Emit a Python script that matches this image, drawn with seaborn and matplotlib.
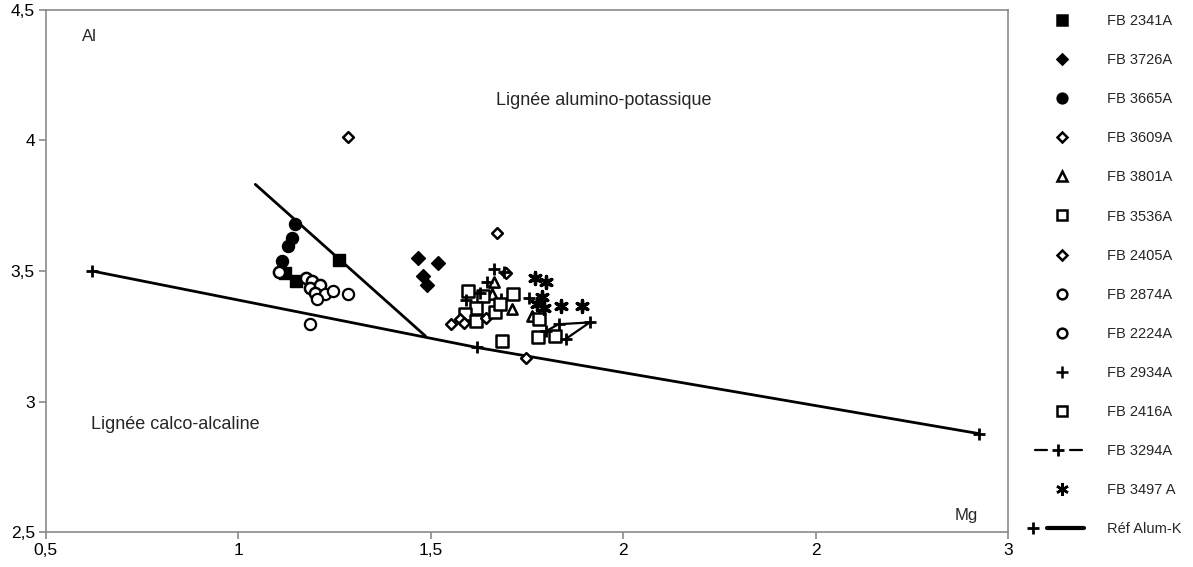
import matplotlib
matplotlib.use("Agg")
import matplotlib.pyplot as plt
from matplotlib.lines import Line2D
from matplotlib.legend_handler import HandlerBase
import seaborn as sns
import pandas as pd

# --- data (Mg, Al) per sample ---
fb2341a_x = [1.122, 1.149, 1.262, 1.210]
fb2341a_y = [3.492, 3.462, 3.542, 3.419]
fb3726a_x = [1.468, 1.519, 1.481, 1.490]
fb3726a_y = [3.549, 3.530, 3.480, 3.447]
fb3665a_x = [1.146, 1.139, 1.128, 1.113]
fb3665a_y = [3.681, 3.627, 3.596, 3.538]
fb3609a_x = [1.285, 1.672, 1.696, 1.748]
fb3609a_y = [4.015, 3.646, 3.492, 3.168]
fb3801a_x = [1.665, 1.659, 1.711, 1.763]
fb3801a_y = [3.456, 3.412, 3.354, 3.328]
fb3536a_x = [1.597, 1.636, 1.713, 1.618, 1.588, 1.618]
fb3536a_y = [3.424, 3.405, 3.410, 3.357, 3.337, 3.309]
fb2405a_x = [1.553, 1.577, 1.587, 1.644]
fb2405a_y = [3.296, 3.318, 3.299, 3.319]
fb2874a_x = [1.106, 1.175, 1.191, 1.187, 1.213, 1.198]
fb2874a_y = [3.497, 3.473, 3.463, 3.436, 3.447, 3.414]
fb2224a_x = [1.224, 1.245, 1.204, 1.285, 1.187]
fb2224a_y = [3.410, 3.423, 3.392, 3.412, 3.296]
fb2934a_x = [1.663, 1.689, 1.646, 1.627, 1.683, 1.592, 1.754]
fb2934a_y = [3.508, 3.497, 3.456, 3.414, 3.392, 3.388, 3.395]
fb2416a_x = [1.666, 1.679, 1.685, 1.782, 1.778, 1.824]
fb2416a_y = [3.344, 3.373, 3.232, 3.318, 3.249, 3.251]
fb3294a_x = [1.800, 1.832, 1.913, 1.852]
fb3294a_y = [3.270, 3.296, 3.303, 3.241]
fb3497a_x = [1.772, 1.800, 1.789, 1.775, 1.793, 1.838, 1.894]
fb3497a_y = [3.472, 3.457, 3.400, 3.375, 3.357, 3.364, 3.364]

ref_x = [0.62, 1.62, 2.924]
ref_y = [3.50, 3.207, 2.877]
limit_x = [1.044, 1.486]
limit_y = [3.832, 3.251]

x_ticks = [0.5, 1.0, 1.5, 2.0, 2.5, 3.0]
x_tick_labels = ["0,5", "1", "1,5", "2", "2", "3"]
y_ticks = [2.5, 3.0, 3.5, 4.0, 4.5]
y_tick_labels = ["2,5", "3", "3,5", "4", "4,5"]

sns.set_style("white")
plt.rcParams["font.family"] = ["Liberation Sans", "DejaVu Sans"]

fig = plt.figure(figsize=(11.93, 5.67), dpi=100)
ax = fig.add_axes([0.0385, 0.0617, 0.8065, 0.9207])

# (label, xs, ys, marker, filled, size, edge width)
series = [
    ("FB 2341A", fb2341a_x, fb2341a_y, "s", True, 70, 1.0),
    ("FB 3726A", fb3726a_x, fb3726a_y, "D", True, 50, 1.0),
    ("FB 3665A", fb3665a_x, fb3665a_y, "o", True, 75, 1.0),
    ("FB 3609A", fb3609a_x, fb3609a_y, "D", False, 30, 1.8),
    ("FB 3801A", fb3801a_x, fb3801a_y, "^", False, 55, 1.8),
    ("FB 3536A", fb3536a_x, fb3536a_y, "s", False, 75, 1.8),
    ("FB 2405A", fb2405a_x, fb2405a_y, "D", False, 30, 1.8),
    ("FB 2874A", fb2874a_x, fb2874a_y, "o", False, 65, 1.8),
    ("FB 2224A", fb2224a_x, fb2224a_y, "o", False, 65, 1.6),
    ("FB 2934A", fb2934a_x, fb2934a_y, "+", False, 80, 2.0),
    ("FB 2416A", fb2416a_x, fb2416a_y, "s", False, 75, 1.8),
    ("FB 3497 A", fb3497a_x, fb3497a_y, (6, 2, 0), False, 75, 2.4),
]

for label, xs, ys, mk, filled, size, lw in series:
    df = pd.DataFrame({"Mg": xs, "Al": ys})
    if mk in ("+",) or isinstance(mk, tuple):
        sns.scatterplot(data=df, x="Mg", y="Al", ax=ax, marker=mk, s=size,
                        color="black", linewidth=lw, legend=False, zorder=3)
    else:
        sns.scatterplot(data=df, x="Mg", y="Al", ax=ax, marker=mk, s=size,
                        facecolor="black" if filled else "white",
                        edgecolor="black", linewidth=lw, legend=False, zorder=3)

# sample with connected points
sns.lineplot(x=fb3294a_x, y=fb3294a_y, ax=ax, sort=False, color="black",
             linewidth=1.6, marker="+", markersize=9, markeredgewidth=2,
             markeredgecolor="black", estimator=None, zorder=3)

# reference alumino-potassic trend and limit line
sns.lineplot(x=ref_x, y=ref_y, ax=ax, sort=False, color="black", linewidth=2,
             marker="+", markersize=9, markeredgewidth=2, markeredgecolor="black",
             estimator=None, zorder=2)
sns.lineplot(x=limit_x, y=limit_y, ax=ax, sort=False, color="black",
             linewidth=2, estimator=None, zorder=2)

ax.set_xlim(0.5, 3.0)
ax.set_ylim(2.5, 4.5)
ax.set_xticks(x_ticks)
ax.set_xticklabels(x_tick_labels)
ax.set_yticks(y_ticks)
ax.set_yticklabels(y_tick_labels)
ax.set_xlabel("")
ax.set_ylabel("")
for sp in ax.spines.values():
    sp.set_visible(True)
    sp.set_color("#8a8a8a")
    sp.set_linewidth(1.2)
ax.tick_params(axis="both", which="major", direction="out", length=5, width=1.2,
               color="#8a8a8a", labelsize=12.5, labelcolor="black", pad=3,
               bottom=True, left=True)

ax.text(0.594, 4.40, "Al", fontsize=12, ha="left", va="center")
ax.text(1.949, 4.154, "Lignée alumino-potassique", fontsize=13, ha="center", va="center")
ax.text(0.617, 2.912, "Lignée calco-alcaline", fontsize=13, ha="left", va="center")
ax.text(2.89, 2.565, "Mg", fontsize=12, ha="center", va="center")


class SegmentHandler(HandlerBase):
    """Legend key built from line segments and '+' markers at given fractions."""

    def __init__(self, segments, marks, lw):
        super().__init__()
        self.segments = segments
        self.marks = marks
        self.lw = lw

    def create_artists(self, legend, orig_handle, xdescent, ydescent, width,
                       height, fontsize, trans):
        y = height / 2 - ydescent
        arts = []
        for a, b in self.segments:
            arts.append(Line2D([-xdescent + a * width, -xdescent + b * width], [y, y],
                               color="black", linewidth=self.lw, transform=trans))
        for m in self.marks:
            arts.append(Line2D([-xdescent + m * width], [y], linestyle="none",
                               marker="+", color="black", markersize=9,
                               markeredgewidth=2, transform=trans))
        return arts


handles = []
for label, xs, ys, mk, filled, size, lw in series:
    if mk == "+" or isinstance(mk, tuple):
        h = Line2D([], [], linestyle="none", marker=mk, color="black",
                   markersize=9, markeredgewidth=1.8)
    else:
        h = Line2D([], [], linestyle="none", marker=mk,
                   markerfacecolor="black" if filled else "white",
                   markeredgecolor="black", markersize=7 if mk != "D" else 5.5,
                   markeredgewidth=1.8)
    handles.append((label, h))

h3294 = Line2D([], [], color="black")
handles.insert(11, ("FB 3294A", h3294))
href = Line2D([], [], color="black")

labels = [l for l, _ in handles] + ["Réf Alum-K"]
hs = [h for _, h in handles] + [href]
leg = fig.legend(hs, labels, loc="upper left", bbox_to_anchor=(1027 / 1193, 1 - 1 / 567),
                 frameon=False, fontsize=10.5, numpoints=1, handlelength=3.0,
                 handletextpad=1.6, labelspacing=1.72,
                 handler_map={
                     h3294: SegmentHandler([(-0.11, 0.16), (0.68, 0.96)], [0.41], 1.6),
                     href: SegmentHandler([(0.15, 1.0)], [-0.17], 3.0),
                 })

fig.savefig("out.png", dpi=100)
